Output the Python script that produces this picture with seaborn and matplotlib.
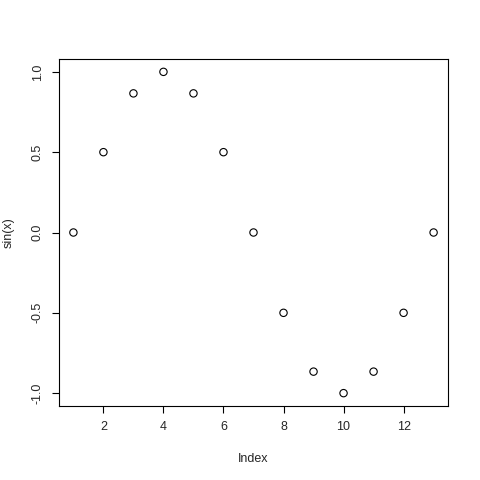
import pandas as pd
import matplotlib
matplotlib.use("Agg")
import matplotlib.pyplot as plt
import seaborn as sns

# Values
index = [1, 2, 3, 4, 5, 6, 7, 8, 9, 10, 11, 12, 13]
sin_x = [0.0, 0.5, 0.866, 1.0, 0.866, 0.5, 0.0, -0.5, -0.866, -1.0, -0.866, -0.5, 0.0]
x_ticks = [2, 4, 6, 8, 10, 12]
y_ticks = [-1.0, -0.5, 0.0, 0.5, 1.0]
y_tick_labels = ["-1.0", "-0.5", "0.0", "0.5", "1.0"]

df = pd.DataFrame({"Index": index, "sin(x)": sin_x})

sns.set_style("white")
plt.rcParams["font.family"] = ["Liberation Sans", "DejaVu Sans"]

fig = plt.figure(figsize=(4.8, 4.8), dpi=100)
ax = fig.add_axes([59 / 480, 1 - 406 / 480, (448 - 59) / 480, (406 - 59) / 480])

sns.scatterplot(data=df, x="Index", y="sin(x)", ax=ax, marker="o",
                s=28, facecolor="none", edgecolor="black", linewidth=0.8)

ax.set_xlim(0.52, 13.48)
ax.set_ylim(-1.08, 1.08)
ax.set_xticks(x_ticks)
ax.set_xticklabels([str(t) for t in x_ticks], fontsize=9)
ax.set_yticks(y_ticks)
ax.set_yticklabels(y_tick_labels, fontsize=9, rotation=90, va="center")
ax.tick_params(direction="out", length=5, width=0.8, color="black", pad=6,
               bottom=True, left=True)
ax.set_xlabel("Index", fontsize=9, labelpad=14)
ax.set_ylabel("sin(x)", fontsize=9, labelpad=12)
for sp in ax.spines.values():
    sp.set_color("black")
    sp.set_linewidth(0.8)

fig.savefig("out.png", dpi=100)
